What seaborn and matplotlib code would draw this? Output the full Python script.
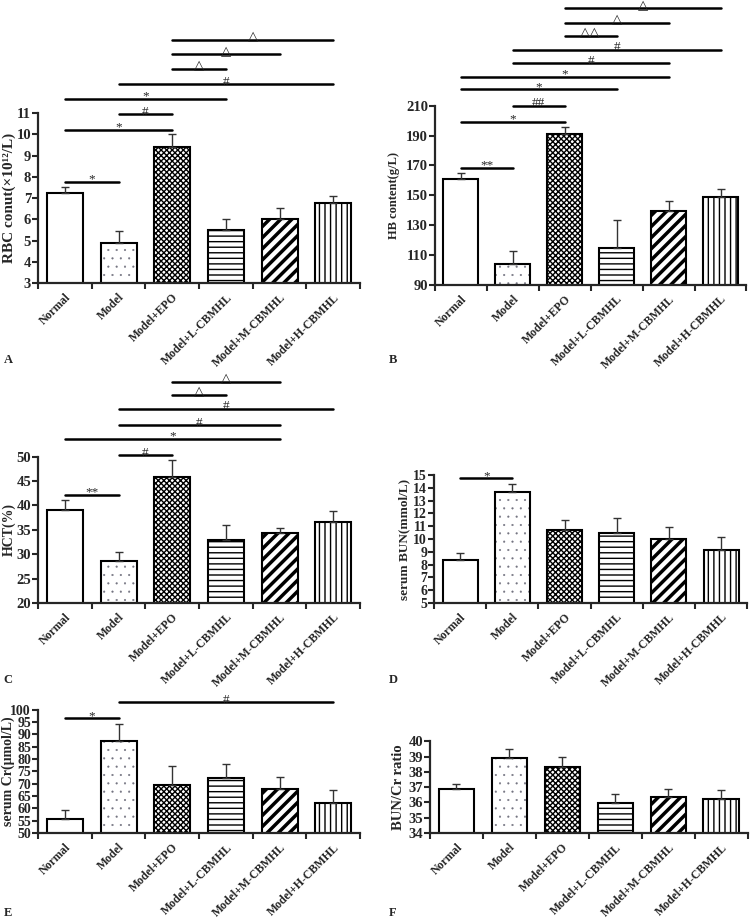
import numpy as np
import pandas as pd
import matplotlib
matplotlib.use("Agg")
import matplotlib.pyplot as plt
import seaborn as sns

# dados
grupos = ["Normal", "Model", "Model+EPO", "Model+L-CBMHL", "Model+M-CBMHL", "Model+H-CBMHL"]

rbc_media = [7.23, 4.90, 9.42, 5.50, 6.00, 6.78]
rbc_erro = [0.29, 0.57, 0.59, 0.51, 0.52, 0.32]

hb_media = [160.6, 104.3, 191.0, 114.5, 139.6, 148.9]
hb_erro = [4.4, 8.1, 5.0, 18.8, 6.4, 5.6]

hct_media = [39.1, 28.6, 45.8, 32.9, 34.4, 36.6]
hct_erro = [2.1, 1.8, 3.5, 3.1, 1.0, 2.2]

bun_media = [8.33, 13.67, 10.70, 10.49, 9.97, 9.11]
bun_erro = [0.55, 0.65, 0.76, 1.15, 0.94, 1.02]

cr_media = [55.8, 87.2, 69.5, 72.2, 68.0, 62.3]
cr_erro = [3.7, 7.0, 7.7, 6.0, 4.6, 5.0]

ratio_media = [36.86, 38.90, 38.33, 35.96, 36.33, 36.26]
ratio_erro = [0.34, 0.62, 0.68, 0.57, 0.55, 0.58]

# comparações: (grupo1, grupo2, altura, símbolo)
rbc_sig = [(0, 1, 7.74, "*"), (0, 2, 10.22, "*"), (1, 2, 10.94, "#"), (0, 3, 11.66, "*"),
           (1, 5, 12.36, "#"), (2, 3, 13.07, "△"), (2, 4, 13.76, "△"), (2, 5, 14.44, "△")]
hb_sig = [(0, 1, 168.1, "**"), (0, 2, 199.4, "*"), (1, 2, 210.0, "##"), (0, 3, 220.9, "*"),
          (0, 4, 229.5, "*"), (1, 4, 238.5, "#"), (1, 5, 247.6, "#"), (2, 3, 256.6, "△△"),
          (2, 4, 265.7, "△"), (2, 5, 275.2, "△")]
hct_sig = [(0, 1, 42.2, "**"), (1, 2, 50.3, "#"), (0, 4, 53.6, "*"), (1, 4, 56.5, "#"),
           (1, 5, 59.9, "#"), (2, 3, 62.7, "△"), (2, 4, 65.4, "△")]
bun_sig = [(0, 1, 14.74, "*")]
cr_sig = [(0, 1, 96.5, "*"), (1, 5, 103.1, "#")]

hachuras = [None, "..", "xxxxxx", "---", "///", "|||"]

sns.set_style("ticks")
plt.rcParams["font.family"] = ["Liberation Serif", "DejaVu Sans"]
plt.rcParams["font.weight"] = "bold"
plt.rcParams["hatch.linewidth"] = 1.0

LARG, ALT = 751, 919


def painel(fig, pos, medias, erros, ylim, yticks, ylabel, ylabel_tam, ylabel_x, letra,
           letra_pos, sig=(), ytick_tam=10):
    ax = fig.add_axes(pos)
    df = pd.DataFrame({"grupo": grupos, "valor": medias})
    sns.barplot(data=df, x="grupo", y="valor", ax=ax, color="white", saturation=1,
                edgecolor="black", linewidth=1.5, width=0.67, errorbar=None)
    for barra, h in zip(ax.patches, hachuras):
        if h:
            barra.set_hatch(h)
            if h == "///" and hasattr(barra, "set_hatch_linewidth"):
                barra.set_hatch_linewidth(2.5)
            if h == "..":
                barra._hatch_color = (0.45, 0.45, 0.5, 1.0)
                if hasattr(barra, "set_hatch_linewidth"):
                    barra.set_hatch_linewidth(0.3)
    x = np.arange(len(grupos))
    ax.errorbar(x, medias, yerr=[np.zeros(len(grupos)), erros], fmt="none",
                ecolor="#333333", elinewidth=1.0, capsize=3, capthick=1.0)
    ax.set_xlim(-0.5, 5.5)
    ax.set_ylim(*ylim)
    ax.set_yticks(yticks)
    ax.set_xticks(x)
    ax.set_xticks(np.arange(-0.5, 6, 1), minor=True)
    ax.tick_params(axis="x", which="major", length=0, pad=6)
    ax.tick_params(axis="x", which="minor", length=4, width=1.5, direction="out")
    ax.tick_params(axis="y", length=4, width=1.5, direction="out", pad=1,
                   labelsize=ytick_tam)
    ax.set_xticklabels(grupos, rotation=45, ha="right", rotation_mode="anchor",
                       fontsize=8.5, fontweight="bold")
    for lab in ax.get_yticklabels():
        lab.set_fontweight("bold")
    ax.set_xlabel("")
    ax.set_ylabel(ylabel, fontsize=ylabel_tam, fontweight="bold")
    ax.yaxis.set_label_coords((ylabel_x / LARG - pos[0]) / pos[2], 0.5)
    sns.despine(ax=ax)
    for s in ["left", "bottom"]:
        ax.spines[s].set_linewidth(1.6)
    for g1, g2, y, txt in sig:
        ax.plot([g1, g2], [y, y], color="black", lw=1.8, clip_on=False)
        ax.annotate(txt, ((g1 + g2) / 2, y), xytext=(0, -2.5), textcoords="offset points",
                    ha="center", va="bottom", fontsize=9.5, fontweight="normal",
                    annotation_clip=False)
    fig.text(letra_pos[0], letra_pos[1], letra, fontsize=9, fontweight="bold",
             ha="left", va="center")
    return ax


fig = plt.figure(figsize=(LARG / 100, ALT / 100), dpi=100)

painel(fig, [0.0506, 0.692, 0.429, 0.185], rbc_media, rbc_erro, (3, 11), range(3, 12),
       "RBC conut(×10¹²/L)", 11, 16, "A", (0.005, 0.608), rbc_sig, 10.5)
painel(fig, [0.579, 0.690, 0.415, 0.195], hb_media, hb_erro, (90, 210), range(90, 211, 20),
       "HB content(g/L)", 9, 400, "B", (0.518, 0.608), hb_sig, 10.5)
painel(fig, [0.0506, 0.344, 0.429, 0.159], hct_media, hct_erro, (20, 50), range(20, 51, 5),
       "HCT(%)", 10, 16, "C", (0.005, 0.260), hct_sig, 10.5)
painel(fig, [0.578, 0.344, 0.417, 0.139], bun_media, bun_erro, (5, 15), range(5, 16),
       "serum BUN(mmol/L)", 9.5, 410, "D", (0.518, 0.260), bun_sig, 10)
painel(fig, [0.0506, 0.0936, 0.429, 0.134], cr_media, cr_erro, (50, 100), range(50, 101, 5),
       "serum Cr(μmol/L)", 10, 15, "E", (0.005, 0.007), cr_sig, 10)
painel(fig, [0.5726, 0.0936, 0.423, 0.0996], ratio_media, ratio_erro, (34, 40), range(34, 41),
       "BUN/Cr ratio", 10.5, 405, "F", (0.518, 0.007), (), 10.5)

fig.savefig("out.png", dpi=100)
